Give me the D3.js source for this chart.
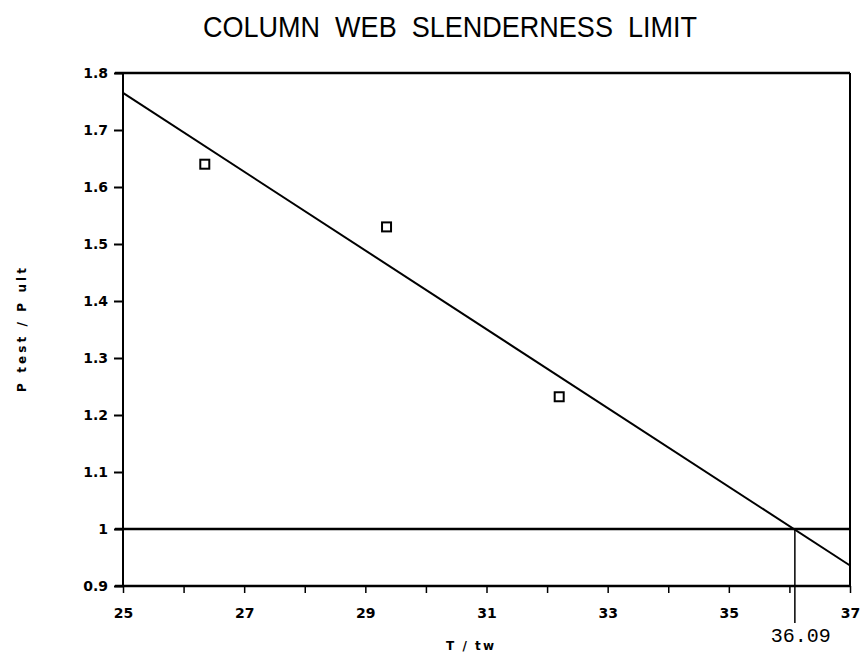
<!DOCTYPE html>
<html>
<head>
<meta charset="utf-8">
<script src="https://cdn.jsdelivr.net/npm/d3@7"></script>
<style>
    body { margin: 0; background: #fff; }
    .tick text { font-family: "DejaVu Sans", sans-serif; font-weight: bold; }
</style>
</head>
<body>
<div id="chart"></div>
<script>

// test points (T/tw vs P test / P ult)
let slenderness = [26.35, 29.35, 32.2];
let loadRatio = [1.64, 1.53, 1.232];

// fitted line end points
let fitX = [25, 37];
let fitY = [1.765, 0.936];

let limitX = 36.09;
let limitY = 1.0;

let xTicks = d3.range(25, 38, 1);
let yTicks = [0.9, 1, 1.1, 1.2, 1.3, 1.4, 1.5, 1.6, 1.7, 1.8];

let width = 863, height = 661;
let margin = {top: 73, right: 13, bottom: 75, left: 123};

let svg = d3.select("#chart").append("svg")
    .attr("width", width)
    .attr("height", height);

let x = d3.scaleLinear()
    .domain([25, 37])
    .range([margin.left, width - margin.right]);

let y = d3.scaleLinear()
    .domain([0.9, 1.8])
    .range([height - margin.bottom, margin.top]);

// title
svg.append("text")
    .attr("x", 450)
    .attr("y", 37)
    .attr("text-anchor", "middle")
    .style("font-family", "Liberation Sans, Arial, sans-serif")
    .style("font-size", "29px")
    .style("white-space", "pre")
    .attr("textLength", 494)
    .attr("lengthAdjust", "spacingAndGlyphs")
    .text("COLUMN  WEB  SLENDERNESS  LIMIT");

// frame (top + right)
svg.append("line")
    .attr("x1", x(25) - 8).attr("x2", x(37))
    .attr("y1", y(1.8)).attr("y2", y(1.8))
    .attr("stroke", "#000").attr("stroke-width", 2.5);

svg.append("line")
    .attr("x1", x(37)).attr("x2", x(37))
    .attr("y1", y(1.8)).attr("y2", y(0.9))
    .attr("stroke", "#000").attr("stroke-width", 2);

// axes
let xAxis = d3.axisBottom(x)
    .tickValues(xTicks)
    .tickSize(7)
    .tickPadding(15)
    .tickFormat(d => d % 2 === 1 ? d : "");

let xg = svg.append("g")
    .attr("transform", `translate(0, ${y(0.9)})`)
    .call(xAxis);
xg.select(".domain").attr("stroke-width", 2.5).attr("d", `M${x(25) - 8},0H${x(37)}`);
xg.selectAll(".tick line").attr("stroke-width", 1.5);
xg.selectAll(".tick text").style("font-size", "14px");

let yAxis = d3.axisLeft(y)
    .tickValues(yTicks)
    .tickSize(9)
    .tickPadding(6)
    .tickFormat(d => d === 0.9 ? "0.9" : d3.format("")(d));

let yg = svg.append("g")
    .attr("transform", `translate(${x(25)}, 0)`)
    .call(yAxis);
yg.select(".domain").attr("stroke-width", 2).attr("d", `M0,${y(1.8)}V${y(0.9)}`);
yg.selectAll(".tick line").attr("stroke-width", 2);
yg.selectAll(".tick text").style("font-size", "14px").attr("dy", "0.35em");

// reference line at 1.0
svg.append("line")
    .attr("x1", x(25) - 8).attr("x2", x(37))
    .attr("y1", y(limitY)).attr("y2", y(limitY))
    .attr("stroke", "#000").attr("stroke-width", 2.5);

// fitted line
let line = d3.line()
    .x(d => x(d[0]))
    .y(d => y(d[1]));

svg.append("path")
    .datum(d3.zip(fitX, fitY))
    .attr("d", line)
    .attr("fill", "none")
    .attr("stroke", "#000")
    .attr("stroke-width", 2);

// limit marker
svg.append("line")
    .attr("x1", x(limitX)).attr("x2", x(limitX))
    .attr("y1", y(limitY)).attr("y2", y(0.9) + 37)
    .attr("stroke", "#000").attr("stroke-width", 1.5);

svg.append("text")
    .attr("x", x(limitX) + 6)
    .attr("y", y(0.9) + 56)
    .attr("text-anchor", "middle")
    .style("font-family", "Liberation Mono, Courier New, monospace")
    .style("font-size", "20px")
    .text(limitX.toFixed(2));

// points
svg.selectAll(".pt")
    .data(d3.zip(slenderness, loadRatio))
    .enter().append("rect")
    .attr("class", "pt")
    .attr("x", d => x(d[0]) - 4.5)
    .attr("y", d => y(d[1]) - 4.5)
    .attr("width", 9)
    .attr("height", 9)
    .attr("fill", "#fff")
    .attr("stroke", "#000")
    .attr("stroke-width", 2);

// axis labels
svg.append("text")
    .attr("x", 470)
    .attr("y", 650)
    .attr("text-anchor", "middle")
    .style("font-family", "DejaVu Sans, sans-serif")
    .style("font-weight", "bold")
    .style("font-size", "12px")
    .style("white-space", "pre")
    .attr("textLength", 48)
    .text("T / tw");

svg.append("text")
    .attr("transform", "translate(26, 330) rotate(-90)")
    .attr("text-anchor", "middle")
    .style("font-family", "DejaVu Sans, sans-serif")
    .style("font-weight", "bold")
    .style("font-size", "12px")
    .style("white-space", "pre")
    .attr("textLength", 124)
    .text("P test / P ult");

</script>
</body>
</html>
